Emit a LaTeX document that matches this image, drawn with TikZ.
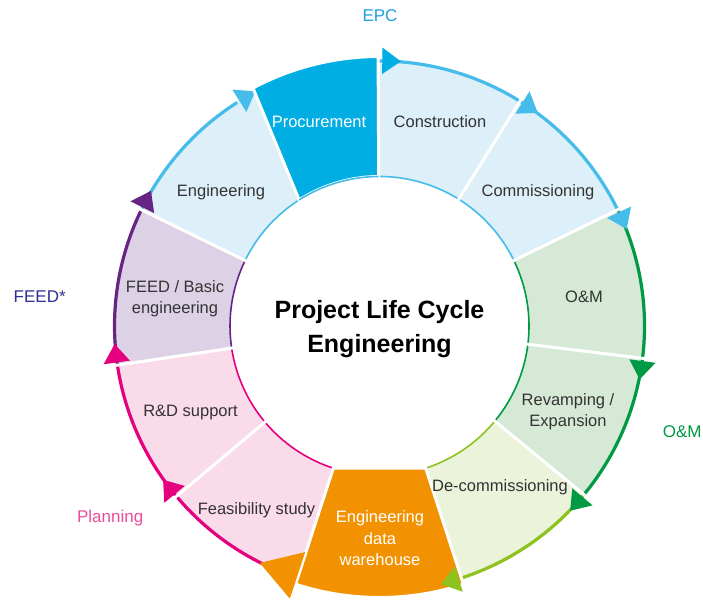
\documentclass[tikz,border=0pt]{standalone}
\usepackage{fontspec}
\setmainfont{Liberation Sans}
\definecolor{efill}{HTML}{DDEFF9}
\definecolor{earc}{HTML}{45BCE9}
\definecolor{proc}{HTML}{00AEE3}
\definecolor{ofill}{HTML}{D5E9D6}
\definecolor{oarc}{HTML}{009A44}
\definecolor{dfill}{HTML}{EBF3DA}
\definecolor{darc}{HTML}{8DC21F}
\definecolor{orng}{HTML}{F39200}
\definecolor{pfill}{HTML}{F9DBE9}
\definecolor{parc}{HTML}{E5007E}
\definecolor{ffill}{HTML}{DDD1E6}
\definecolor{farc}{HTML}{662483}
\definecolor{txt}{HTML}{333333}
\definecolor{epclab}{HTML}{1DA1E2}
\definecolor{feedlab}{HTML}{2E3192}
\definecolor{planlab}{HTML}{E94E9B}
\newcommand\mysegfill[3]{\fill[#1] (#2:149.5pt) arc[start angle=#2,end angle=#3,radius=149.5pt] -- (#3:266pt) arc[start angle=#3,end angle=#2,radius=266pt] -- cycle;}
\newcommand\myarcout[3]{\draw[#1,line width=3.2pt] (#2:265pt) arc[start angle=#2,end angle=#3,radius=265pt];}
\newcommand\myarcin[3]{\draw[#1,line width=1.6pt] (#2:149.5pt) arc[start angle=#2,end angle=#3,radius=149.5pt];}
\newcommand\myarrow[2]{\fill[#1] ({#2-0.6}:252pt) -- ({#2-0.6}:278.5pt) -- ({#2-4.6}:265.5pt) -- cycle;}
\newcommand\mysep[1]{\draw[white,line width=3pt] (#1:147pt) -- (#1:267.5pt);}
\tikzset{
  seglabel/.style={text=txt,font=\fontsize{16.5}{21.5}\selectfont,inner sep=0pt},
  seglabelw/.style={text=white,font=\fontsize{16.5}{21.3}\selectfont,inner sep=0pt},
  grouplabel/.style={font=\fontsize{17}{20}\selectfont,inner sep=0pt},
  titlelabel/.style={text=black,font=\fontsize{25}{34.4}\selectfont\bfseries,inner sep=0pt,align=center}
}
\begin{document}
\begin{tikzpicture}[x=1pt,y=1pt]
\fill[white] (0,0) rectangle (703,601);
\useasboundingbox (0,0) rectangle (703,601);
\begin{scope}[shift={(379.5,275)}]
% segment fills
\mysegfill{efill}{90}{58}
\mysegfill{efill}{58}{26}
\mysegfill{ofill}{26}{-7}
\mysegfill{ofill}{-7}{-39.5}
\mysegfill{dfill}{-39.5}{-72}
\mysegfill{pfill}{-108}{-140}
\mysegfill{pfill}{-140}{-171.5}
\mysegfill{ffill}{-171.5}{-206}
\fill[efill] (-206:149.5pt) arc[start angle=-206,end angle=-237.5,radius=149.5pt] -- (-242:266pt) arc[start angle=-242,end angle=-206,radius=266pt] -- cycle;
% outer arcs
\myarcout{earc}{90}{58}
\myarcout{earc}{58}{26}
\myarcout{oarc}{26}{-7}
\myarcout{oarc}{-7}{-39.5}
\myarcout{darc}{-39.5}{-72}
\myarcout{parc}{-108}{-140}
\myarcout{parc}{-140}{-171.5}
\myarcout{farc}{-171.5}{-206}
\myarcout{earc}{-206}{-237.5}
% inner arcs
\myarcin{earc}{90}{58}
\myarcin{earc}{58}{26}
\myarcin{oarc}{26}{-7}
\myarcin{oarc}{-7}{-39.5}
\myarcin{darc}{-39.5}{-72}
\myarcin{parc}{-108}{-140}
\myarcin{parc}{-140}{-171.5}
\myarcin{farc}{-171.5}{-206}
\myarcin{earc}{-206}{-237.5}
% arrowheads
\myarrow{earc}{58}
\myarrow{earc}{26}
\myarrow{oarc}{-7}
\myarrow{oarc}{-39.5}
\myarrow{parc}{-140}
\myarrow{parc}{-171.5}
\myarrow{farc}{-206}
\myarrow{earc}{-237.5}
% separators
\mysep{58}
\mysep{26}
\mysep{-7}
\mysep{-39.5}
\mysep{-140}
\mysep{-171.5}
\mysep{-206}
% highlighted: procurement
\filldraw[fill=proc,draw=white,line width=3pt] (122.5:149.5pt) arc[start angle=122.5,end angle=90.3,radius=149.5pt] -- (90.3:269.5pt) arc[start angle=90.3,end angle=118,radius=269.5pt] -- cycle;
\myarcin{earc}{122.5}{90.3}
\myarrow{proc}{90}
% highlighted: engineering data warehouse
\filldraw[fill=orng,draw=white,line width=3pt] (-72:149.5pt) -- (-108:149.5pt) -- (-108:271.5pt) arc[start angle=-108,end angle=-72,radius=271.5pt] -- cycle;
\fill[orng] (-108.2:238pt) -- (-108.2:287pt) -- (-116.8:265.5pt) -- cycle;
\myarrow{darc}{-72}
\end{scope}
% labels
\node[seglabelw,anchor=base] (procl) at (319,473) {Procurement};
\node[seglabel,anchor=base] (constl) at (440,473) {Construction};
\node[seglabel,anchor=base] (comml) at (538,404.5) {Commissioning};
\node[seglabel,anchor=base] (engl) at (221,404.5) {Engineering};
\node[seglabel,align=center] (feedl) at (175,302.5) {FEED / Basic\\engineering};
\node[seglabel,anchor=base] (rdl) at (190.5,184.3) {R\&D support};
\node[seglabel,anchor=base] (feasl) at (256.5,86.5) {Feasibility study};
\node[seglabelw,align=center] (edwl) at (380,62.75) {Engineering\\data\\warehouse};
\node[seglabel,anchor=base] (decl) at (500,109.5) {De-commissioning};
\node[seglabel,align=center] (revl) at (568,189.25) {Revamping /\\Expansion};
\node[seglabel,anchor=base] (oml) at (584,298.5) {O\&M};
\node[titlelabel] (title) at (379.5,272) {Project Life Cycle\\Engineering};
% group labels
\node[grouplabel,text=epclab,anchor=base] (epc) at (380,579.5) {EPC};
\node[grouplabel,text=feedlab,anchor=base] (feedg) at (39.7,298.5) {FEED*};
\node[grouplabel,text=oarc,anchor=base west] (omg) at (662.7,163) {O\&M};
\node[grouplabel,text=planlab,anchor=base east] (plang) at (143.5,78) {Planning};
\end{tikzpicture}
\end{document}
